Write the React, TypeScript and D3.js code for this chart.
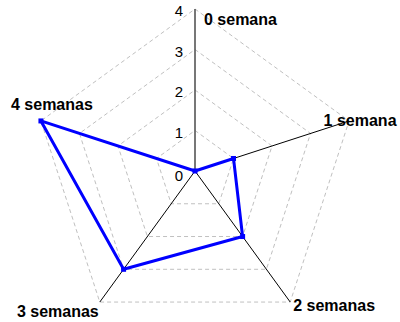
import React from "react";
import * as d3 from "d3";

const categories = ["0 semana", "1 semana", "2 semanas", "3 semanas", "4 semanas"];
const values = [0, 1, 2, 3, 4];
const ticks = [0, 1, 2, 3, 4];

export default function App() {
  const W = 400, H = 322;
  const cx = 195, cy = 171, R = 162;
  const r = d3.scaleLinear().domain([0, 4]).range([0, R]);
  const n = categories.length;
  const ang = (i: number) => (i * 2 * Math.PI) / n;
  const pt = (i: number, v: number): [number, number] => [
    cx + r(v) * Math.sin(ang(i)),
    cy - r(v) * Math.cos(ang(i)),
  ];
  const line = d3.line<[number, number]>().curve(d3.curveLinearClosed);
  const dataPts = values.map((v, i) => pt(i, v));
  const labelOff: [number, number, string][] = [
    [9, 16, "start"],
    [11, 5, "middle"],
    [3, 9, "start"],
    [-1, 15, "end"],
    [11, -11, "middle"],
  ];
  return (
    <svg width={W} height={H} style={{ position: "absolute", left: 0, top: 0 }}
      fontFamily="'Liberation Sans', Arial, sans-serif">
      <rect width={W} height={H} fill="#fff" />
      {ticks.slice(1).map((t) => (
        <path key={t}
          d={line(categories.map((_, i) => pt(i, t))) || ""}
          fill="none" stroke="#c0c0c0" strokeWidth={1} strokeDasharray="4,3" />
      ))}
      {categories.map((_, i) => {
        const [x, y] = pt(i, 4);
        return <line key={i} x1={cx} y1={cy} x2={x} y2={y}
          stroke={i === 0 ? "#555" : "#000"} strokeWidth={i === 0 ? 1.6 : 1} />;
      })}
      {ticks.map((t) => (
        <text key={t} x={cx - 12} y={cy - r(t) + (t === 0 ? 10 : 7)}
          textAnchor="end" fontSize={15} fill="#000">{t}</text>
      ))}
      <path d={line(dataPts) || ""} fill="none" stroke="#0000ff" strokeWidth={3} strokeLinejoin="round" />
      {dataPts.map(([x, y], i) => (
        <rect key={i} x={x - 2.5} y={y - 2.5} width={5} height={5} fill="#0000ff" />
      ))}
      {categories.map((c, i) => {
        const [x, y] = pt(i, 4);
        const [dx, dy, anchor] = labelOff[i];
        return <text key={c} x={x + dx} y={y + dy} textAnchor={anchor as any}
          fontSize={16} fontWeight="bold" fill="#000">{c}</text>;
      })}
    </svg>
  );
}
